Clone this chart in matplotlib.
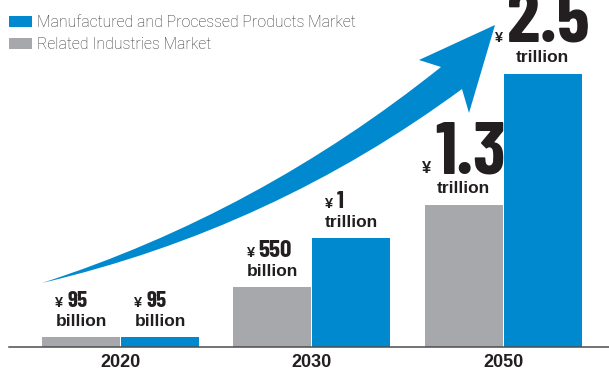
import numpy as np
import matplotlib
matplotlib.use('Agg')
import matplotlib.pyplot as plt
from matplotlib.path import Path
from matplotlib.patches import PathPatch
from matplotlib.transforms import IdentityTransform

# market size in ¥ billion
years = ['2020', '2030', '2050']
related = [95, 550, 1300]
manufactured = [95, 1000, 2500]
related_text = [('95', 'billion'), ('550', 'billion'), ('1.3', 'trillion')]
manufactured_text = [('95', 'billion'), ('1', 'trillion'), ('2.5', 'trillion')]
num_sizes_rel = [16.5, 18, 54]
num_sizes_man = [16.5, 17.5, 54]
names = ['Manufactured and Processed Products Market', 'Related Industries Market']

BLUE = '#0089cf'
GREY = '#a7a8ac'
INK = '#231f20'
BOLD = 'Liberation Sans'
NUMFONT = ['Barlow Condensed', 'DejaVu Sans']

W, H = 609, 371
fig = plt.figure(figsize=(W / 100, H / 100), dpi=100)
ax = fig.add_axes([9 / W, 24 / H, 600 / W, 347 / H])

x = np.arange(len(years))
width = 0.408
off = 0.2065
bars_rel = ax.bar(x - off, related, width, color=GREY, label=names[1])
bars_man = ax.bar(x + off, manufactured, width, color=BLUE, label=names[0])

ax.set_xlim(-0.583, 2.554)
ax.set_ylim(0, 3180)
for s in ['top', 'left', 'right']:
    ax.spines[s].set_visible(False)
ax.spines['bottom'].set_color('#4d4d4d')
ax.spines['bottom'].set_linewidth(1.1)
ax.set_yticks([])
ax.set_xticks(x, years)
for lab in ax.get_xticklabels():
    lab.set_fontfamily(BOLD)
    lab.set_fontweight('bold')
    lab.set_fontsize(13)
    lab.set_color(INK)
ax.tick_params(axis='x', length=0, pad=5)

ax.legend(handles=[bars_man, bars_rel], loc='upper left',
          bbox_to_anchor=(9 / W, 1 - 15 / H), bbox_transform=fig.transFigure,
          frameon=False, prop={'family': 'Roboto', 'weight': 'light', 'size': 11.4},
          labelcolor='#333333', handlelength=1.45, handleheight=0.75,
          handletextpad=0.3, labelspacing=0.45, borderpad=0, borderaxespad=0)

renderer = fig.canvas.get_renderer()
ident = IdentityTransform()


def value_label(bar, num, unit, num_size, yen_size=10.5):
    cx = bar.get_x() + bar.get_width() / 2
    px, py = ax.transData.transform((cx, bar.get_height()))
    big = num_size > 30
    u_y = py + (12 if big else 11)
    n_y = u_y + (20 if big else 19)
    u = fig.text(px, u_y, unit, transform=ident, ha='center', va='baseline',
                 family=BOLD, fontweight='bold', fontsize=12.5, color=INK)
    ub = u.get_window_extent(renderer)
    yen = fig.text(0, 0, '¥', transform=ident, ha='left', va='baseline',
                   family=BOLD, fontweight='bold', fontsize=yen_size, color=INK)
    n = fig.text(0, 0, num, transform=ident, ha='left', va='baseline',
                 family=NUMFONT, fontstretch='condensed', fontweight='bold',
                 fontsize=num_size, color=INK)
    yw = yen.get_window_extent(renderer).width
    nw = n.get_window_extent(renderer).width
    gap = 4
    block = yw + gap + nw
    left = ub.x0 if block <= ub.width else px - block / 2
    yen.set_position((left, n_y))
    n.set_position((left + yw + gap, n_y))


for i in range(len(years)):
    value_label(bars_rel[i], related_text[i][0], related_text[i][1], num_sizes_rel[i],
                12 if i == 2 else 10.5)
    value_label(bars_man[i], manufactured_text[i][0], manufactured_text[i][1], num_sizes_man[i])

# decorative growth arrow (pixel coords from top-left)
pts = [(42, 283), (258.5, 213), (441, 67), (419, 60), (495, 25), (469, 113),
       (462, 89), (272, 229), (42, 283), (42, 283)]
codes = [Path.MOVETO, Path.CURVE3, Path.CURVE3, Path.LINETO, Path.LINETO,
         Path.LINETO, Path.LINETO, Path.CURVE3, Path.CURVE3, Path.CLOSEPOLY]
verts = [(px, H - py) for px, py in pts]
fig.add_artist(PathPatch(Path(verts, codes), facecolor=BLUE, edgecolor='none',
                         transform=ident))

fig.savefig('out.png', dpi=100)
